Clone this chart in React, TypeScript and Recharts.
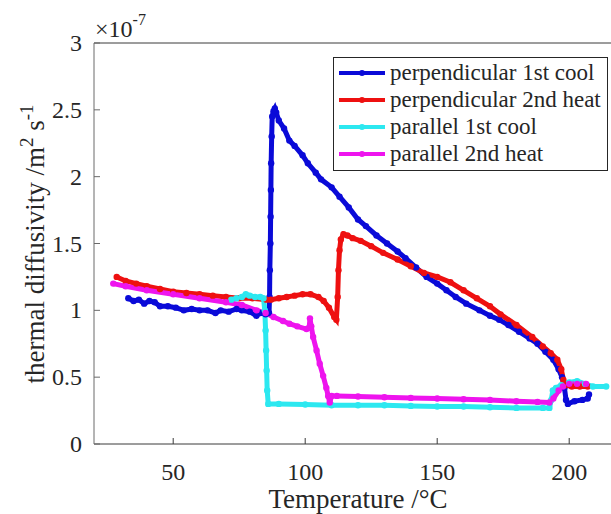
import { LineChart, Line, XAxis, YAxis, Legend, Customized } from 'recharts';

const FONT = '"Liberation Serif", "DejaVu Serif", "Times New Roman", serif';
const TEXT = '#262626';
const AXIS = '#3a3a3a';

// plot box in page pixels (MATLAB-like axes, right part cut off by the window)
const W = 640;
const H = 514;
const LEFT = 94;
const TOP = 43;
const BOTTOM = 444;

// x: temperature in °C, y: thermal diffusivity in 1e-7 m^2/s
const perpCoolT = [207.5, 207, 205, 202, 199.5, 198.8, 198.2, 197.3, 196, 194, 191, 188, 185, 181, 177, 173.5, 170, 166, 161, 157, 153.5, 150, 146, 142, 138, 135, 131, 127, 123, 120, 116.5, 113, 110, 106, 104, 101, 99, 96, 94, 92, 90, 89, 88.5, 88, 87.5, 87.3, 87.1, 87, 86.9, 86.8, 86.6, 86.5, 86.3, 85, 83, 81.5, 79, 76, 74, 71, 68, 66, 63, 60, 57, 54, 51, 48, 45, 43, 41, 39, 37, 35, 33];
const perpCoolD = [0.37, 0.34, 0.33, 0.32, 0.3, 0.33, 0.42, 0.5, 0.56, 0.63, 0.69, 0.75, 0.79, 0.84, 0.89, 0.93, 0.96, 1.0, 1.05, 1.1, 1.15, 1.2, 1.25, 1.32, 1.39, 1.44, 1.5, 1.56, 1.63, 1.68, 1.77, 1.85, 1.92, 1.98, 2.03, 2.1, 2.16, 2.23, 2.27, 2.36, 2.42, 2.48, 2.51, 2.49, 2.45, 2.3, 2.1, 1.9, 1.7, 1.5, 1.3, 1.1, 0.98, 0.97, 0.98, 0.96, 0.99, 1.0, 1.01, 0.99, 1.0, 0.98, 1.0, 1.0, 1.01, 1.0, 1.02, 1.03, 1.03, 1.06, 1.07, 1.05, 1.08, 1.07, 1.09];

const perpHeatT = [28.6, 32, 36, 40, 45, 50, 55, 60, 65, 70, 75, 80, 85.3, 87, 90, 93, 96, 99, 102, 105, 107, 109, 111, 111.8, 112.3, 112.6, 113, 113.5, 114.5, 116, 118, 121, 125, 129.5, 135, 140, 145, 150, 155, 160, 165, 170, 174, 180, 186, 190, 193, 195.5, 197, 197.8, 198.5, 201, 204, 207];
const perpHeatD = [1.25, 1.22, 1.2, 1.18, 1.16, 1.14, 1.13, 1.12, 1.11, 1.1, 1.09, 1.09, 1.08, 1.08, 1.09, 1.1, 1.11, 1.12, 1.12, 1.1, 1.07, 1.02, 0.95, 0.93, 1.1, 1.3, 1.45, 1.53, 1.57, 1.56, 1.54, 1.52, 1.48, 1.43, 1.38, 1.33, 1.28, 1.25, 1.21, 1.15, 1.09, 1.03, 0.97, 0.89, 0.8, 0.73, 0.68, 0.63, 0.56, 0.48, 0.44, 0.43, 0.43, 0.43];

const parCoolT = [214, 209, 206, 203, 200, 197, 195, 193.8, 193.2, 192.5, 190, 180, 170, 160, 150, 140, 130, 120, 110, 100, 90, 86, 85.6, 85.4, 85.2, 85, 84.7, 84.2, 83, 81, 79, 77.5, 76, 74, 72];
const parCoolD = [0.43, 0.43, 0.45, 0.47, 0.46, 0.44, 0.42, 0.4, 0.33, 0.27, 0.27, 0.27, 0.275, 0.28, 0.28, 0.285, 0.29, 0.29, 0.29, 0.295, 0.3, 0.3, 0.4, 0.55, 0.7, 0.85, 1.0, 1.09, 1.1, 1.1, 1.11, 1.12, 1.1, 1.09, 1.08];

const parHeatT = [27.3, 32, 40, 50, 60, 70, 76, 81.6, 85, 88, 91.6, 94, 97, 100.5, 101.5, 101.8, 102.3, 103, 104.3, 105.5, 106.8, 108, 108.7, 109.3, 110, 112, 120, 130, 140, 150, 160, 170, 180, 188, 192.5, 194, 196, 197.6, 200, 203, 206.4];
const parHeatD = [1.2, 1.18, 1.15, 1.12, 1.09, 1.06, 1.04, 1.0, 0.98, 0.95, 0.92, 0.9, 0.88, 0.86, 0.87, 0.94, 0.88, 0.8, 0.7, 0.6, 0.51, 0.42, 0.36, 0.31, 0.36, 0.36, 0.355, 0.35, 0.345, 0.34, 0.335, 0.33, 0.32, 0.315, 0.31, 0.34, 0.4, 0.43, 0.45, 0.45, 0.45];

const xTicks = [50, 100, 150, 200];
const yTicks = [0, 0.5, 1, 1.5, 2, 2.5, 3];

const zip = (t: number[], d: number[]) => t.map((v, i) => ({ t: v, d: d[i] }));

const SERIES = [
  { name: 'perpendicular 1st cool', color: '#0a0ad8', data: zip(perpCoolT, perpCoolD) },
  { name: 'perpendicular 2nd heat', color: '#ee1010', data: zip(perpHeatT, perpHeatD) },
  { name: 'parallel 1st cool', color: '#2ce8f0', data: zip(parCoolT, parCoolD) },
  { name: 'parallel 2nd heat', color: '#ee14ee', data: zip(parHeatT, parHeatD) },
];

function XTick({ x, payload }: any) {
  return (
    <text x={x} y={BOTTOM + 36} textAnchor="middle" fontFamily={FONT} fontSize={24} fill={TEXT}>
      {payload.value}
    </text>
  );
}

function YTick({ y, payload }: any) {
  return (
    <text x={LEFT - 12} y={y + 8} textAnchor="end" fontFamily={FONT} fontSize={24} fill={TEXT}>
      {payload.value}
    </text>
  );
}

function Titles() {
  return (
    <g fontFamily={FONT} fill={TEXT} style={{ fontFamily: FONT }}>
      <text x={358} y={508} textAnchor="middle" fontSize={27}>
        Temperature /°C
      </text>
      <text x={44} y={244} textAnchor="middle" fontSize={27} transform="rotate(-90 44 244)">
        thermal diffusivity /m
        <tspan fontSize={19} dy={-11}>2</tspan>
        <tspan dy={11}> s</tspan>
        <tspan fontSize={19} dy={-11}>-1</tspan>
      </text>
      <text x={95} y={37} fontSize={24}>
        ×10
        <tspan fontSize={16} dy={-12}>-7</tspan>
      </text>
    </g>
  );
}

function LegendBox() {
  return (
    <div
      style={{
        border: `1px solid ${TEXT}`,
        background: '#fff',
        width: 273,
        padding: '1px 0 3px 0',
        fontFamily: FONT,
        fontSize: 23,
        color: TEXT,
      }}
    >
      {SERIES.map((s) => (
        <div key={s.name} style={{ display: 'flex', alignItems: 'center', height: 27 }}>
          <svg width={56} height={10} style={{ flex: 'none' }}>
            <line x1={5} y1={5} x2={51} y2={5} stroke={s.color} strokeWidth={4} />
            <circle cx={28} cy={5} r={3} fill={s.color} />
          </svg>
          <span style={{ lineHeight: '27px', whiteSpace: 'nowrap' }}>{s.name}</span>
        </div>
      ))}
    </div>
  );
}

export default function App() {
  return (
    <div style={{ position: 'absolute', left: 0, top: 0, width: 611, height: 514, overflow: 'hidden', background: '#fff' }}>
      <LineChart width={W} height={H} margin={{ top: TOP - 1, right: W - 622, bottom: H - BOTTOM - 1, left: 0 }}>
        <XAxis
          dataKey="t"
          type="number"
          domain={[20, 220]}
          ticks={xTicks}
          height={1}
          tickSize={-6}
          stroke={AXIS}
          tick={<XTick />}
          allowDataOverflow
        />
        <XAxis
          xAxisId="top"
          orientation="top"
          type="number"
          domain={[20, 220]}
          ticks={xTicks}
          height={1}
          tickSize={-6}
          stroke={AXIS}
          tick={false}
        />
        <YAxis
          type="number"
          domain={[0, 3]}
          ticks={yTicks}
          width={LEFT}
          tickSize={-6}
          stroke="#6a6a6a"
          tick={<YTick />}
          allowDataOverflow
        />
        {SERIES.map((s) => (
          <Line
            key={s.name}
            name={s.name}
            data={s.data}
            dataKey="d"
            type="linear"
            stroke={s.color}
            strokeWidth={5}
            dot={{ r: 3.2, fill: s.color, stroke: s.color, strokeWidth: 0 }}
            isAnimationActive={false}
          />
        ))}
        <Legend
          layout="vertical"
          align="center"
          verticalAlign="middle"
          wrapperStyle={{ left: 333, top: 57, width: 'auto' }}
          content={() => <LegendBox />}
        />
        <Customized component={Titles} />
      </LineChart>
    </div>
  );
}
